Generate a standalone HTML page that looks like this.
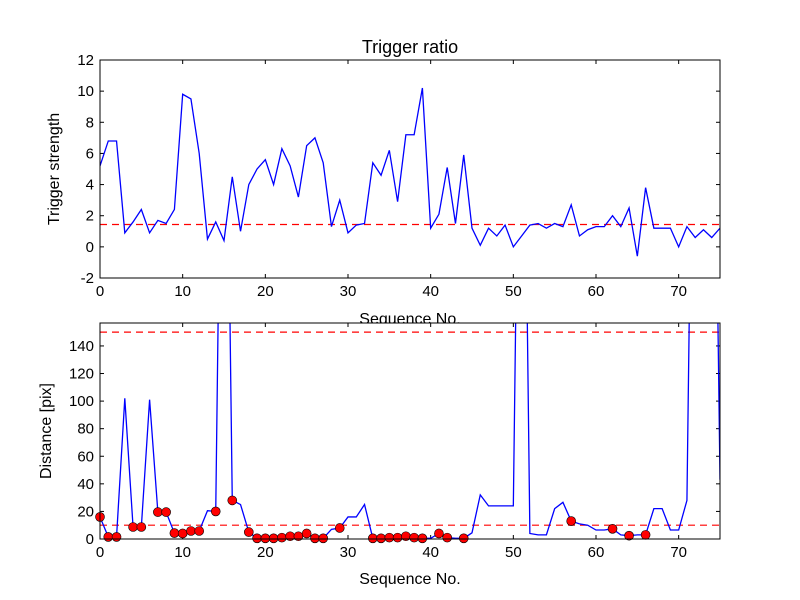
<!DOCTYPE html>
<html><head><meta charset="utf-8"><style>
body{margin:0;background:#fff}
svg{display:block;font-family:"Liberation Sans","DejaVu Sans",sans-serif}
</style></head><body>
<svg id="c" width="800" height="600" viewBox="0 0 800 600"></svg>
<script>
const seq = Array.from({length:76},(_,i)=>i);
const ratio = [5.2,6.8,6.8,0.9,1.6,2.4,0.9,1.7,1.5,2.4,9.8,9.5,6,0.5,1.6,0.4,4.5,1,4,5,5.6,4,6.3,5.2,3.2,6.5,7,5.4,1.3,3,0.9,1.4,1.5,5.4,4.6,6.2,2.9,7.2,7.2,10.2,1.2,2.1,5.1,1.5,5.9,1.2,0.1,1.2,0.7,1.4,0,0.7,1.4,1.5,1.2,1.5,1.3,2.7,0.7,1.1,1.3,1.3,2,1.3,2.5,-0.6,3.8,1.2,1.2,1.2,0,1.3,0.6,1.1,0.6,1.2];
const dist = [16,1.5,1.5,102,8.7,8.7,101,19.5,19.5,4.3,4,5.8,5.8,20.5,20,500,28,25,5,0.5,0.5,0.5,1,2,2,4,0.5,0.5,7,8,16,16,25,0.5,0.5,1,1,2,1,0.5,0.5,4,1,0.5,0.5,4.5,32,24,24,24,24,500,4,3,3,22,26.6,13,11,10,6.5,6.5,7.4,3,2.4,3,3,22,22,6.5,6.5,28,500,500,500,43];
const markerIdx = [0,1,2,4,5,7,8,9,10,11,12,14,16,18,19,20,21,22,23,24,25,26,27,29,33,34,35,36,37,38,39,41,42,44,57,62,64,66];
const ratioThresh = [1.5];
const distThresh = [10,150];
const xTicks = [0,10,20,30,40,50,60,70];
const topYTicks = [-2,0,2,4,6,8,10,12];
const botYTicks = [0,20,40,60,80,100,120,140];

const svg=document.getElementById('c');
const NS='http://www.w3.org/2000/svg';
function mk(t,a,p){const e=document.createElementNS(NS,t);for(const k in a)e.setAttribute(k,a[k]);(p||svg).appendChild(e);return e;}
const L=100,R=720;
const x=v=>L+(v-0)/75*(R-L);
const yT=v=>278-(v+2)/14*218;
const yB=v=>539-v*1.379;

function drawAxes(top,bot,y,yticks,prefix){
  const g=mk('g',{});
  
  
  mk('rect',{x:L,y:top,width:R-L,height:bot-top,fill:'#fff'},g);
  xTicks.forEach(t=>{
    mk('line',{x1:x(t),x2:x(t),y1:bot,y2:bot-4,stroke:'#000'},g);
    mk('line',{x1:x(t),x2:x(t),y1:top,y2:top+4,stroke:'#000'},g);
    const tx=mk('text',{x:x(t),y:bot+18,'text-anchor':'middle','font-size':15},g);
    tx.textContent=t;
    
    
  });
  yticks.forEach(t=>{
    mk('line',{x1:L,x2:L+4,y1:y(t),y2:y(t),stroke:'#000'},g);
    mk('line',{x1:R,x2:R-4,y1:y(t),y2:y(t),stroke:'#000'},g);
    const tx=mk('text',{x:L-6,y:y(t)+5,'text-anchor':'end','font-size':15},g);
    tx.textContent=t;
    
    
  });
  return g;
}
const gt=drawAxes(60,278,yT,topYTicks,'top');
const xl1=mk('text',{x:410,y:324,'text-anchor':'middle','font-size':16});
xl1.textContent='Sequence No.';


const cp1=mk('clipPath',{id:'cp1'});mk('rect',{x:L,y:60,width:R-L,height:218},cp1);
const s1=mk('g',{'clip-path':'url(#cp1)'});
ratioThresh.forEach(v=>{const l=mk('line',{x1:L,x2:R,y1:Math.round(yT(v))+0.5,y2:Math.round(yT(v))+0.5,stroke:'#ff0000','stroke-width':1.2,'stroke-dasharray':'7,5'},s1);
});
const p1=mk('polyline',{points:seq.map(i=>x(i)+','+yT(ratio[i])).join(' '),fill:'none',stroke:'blue','stroke-width':1.3},s1);

mk('rect',{x:L,y:60,width:R-L,height:218,fill:'none',stroke:'#000'});
const tt=mk('text',{x:410,y:53,'text-anchor':'middle','font-size':18});
tt.textContent='Trigger ratio';
const yl1=mk('text',{x:59,y:169,'text-anchor':'middle','font-size':16,transform:'rotate(-90 59 169)'});
yl1.textContent='Trigger strength';

const gb=drawAxes(323,539,yB,botYTicks,'bottom');
const cp2=mk('clipPath',{id:'cp2'});mk('rect',{x:L,y:323,width:R-L,height:216},cp2);
const s2=mk('g',{'clip-path':'url(#cp2)'});
distThresh.forEach(v=>{const l=mk('line',{x1:L,x2:R,y1:yB(v),y2:yB(v),stroke:'red','stroke-width':1.2,'stroke-dasharray':'7,5'},s2);
});
const p2=mk('polyline',{points:seq.map(i=>x(i)+','+yB(dist[i])).join(' '),fill:'none',stroke:'blue','stroke-width':1.3},s2);

markerIdx.forEach(i=>{const c=mk('circle',{cx:x(i),cy:yB(dist[i]),r:4.5,fill:'red',stroke:'#000','stroke-width':0.6});
});
mk('rect',{x:L,y:323,width:R-L,height:216,fill:'none',stroke:'#000'});
const xl2=mk('text',{x:410,y:584,'text-anchor':'middle','font-size':16});
xl2.textContent='Sequence No.';
const yl2=mk('text',{x:51,y:431,'text-anchor':'middle','font-size':16,transform:'rotate(-90 51 431)'});
yl2.textContent='Distance [pix]';
</script>
</body></html>
